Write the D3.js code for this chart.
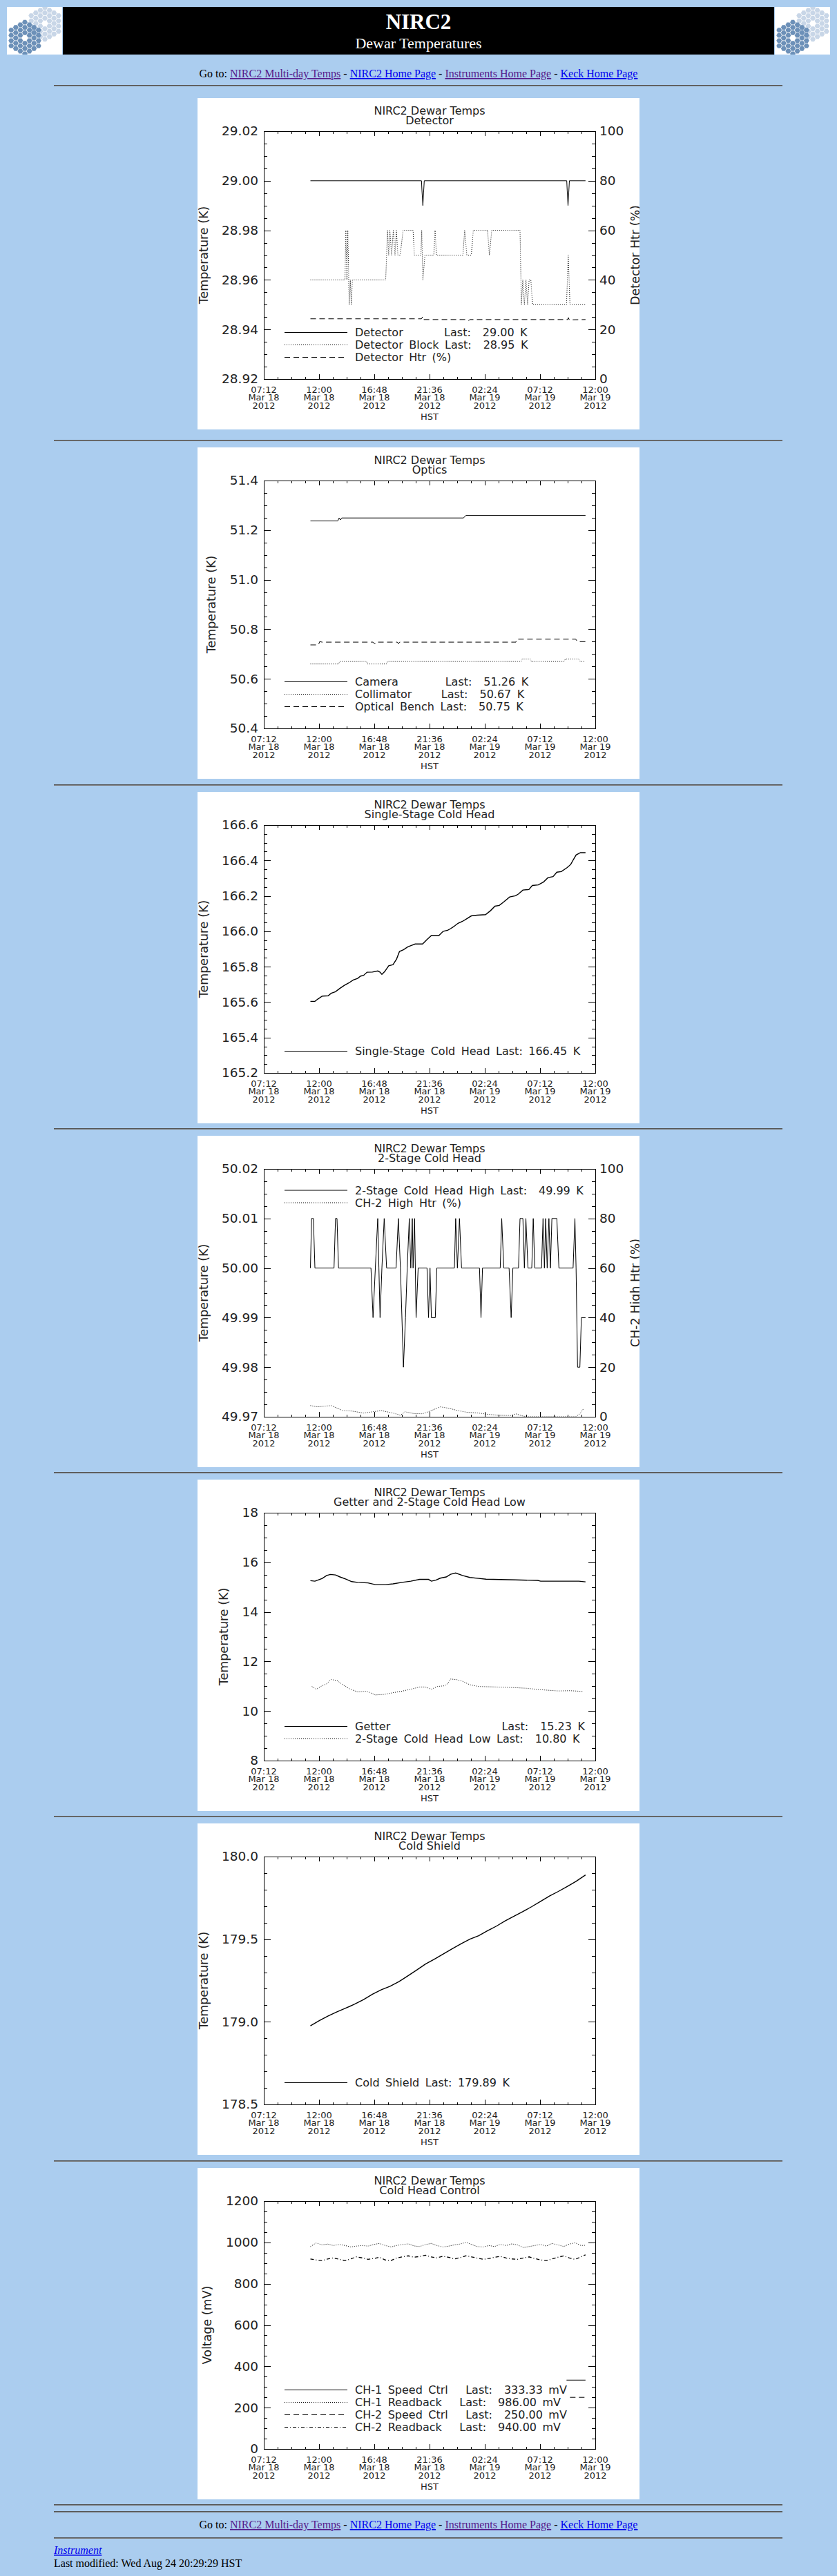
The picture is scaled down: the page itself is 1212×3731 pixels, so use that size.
<!DOCTYPE html>
<html><head><meta charset="utf-8">
<script src="https://cdn.jsdelivr.net/npm/d3@7"></script>
<style>
html,body{margin:0;padding:0;background:#abcdef;}
</style></head>
<body>
<script>
// ---------------- DATA (hours since 2012-03-18 00:00 HST, value) ----------------
const xMajorHours = [7.2, 12.0, 16.8, 21.6, 26.4, 31.2, 36.0];
const xMinorStepHours = 1.2;

// Chart 1: Detector
const detector = [[11.25,29.00],[20.90,29.00],[20.94,28.996],[21.02,28.990],[21.08,28.995],[21.14,29.00],[33.52,29.00],[33.56,28.996],[33.63,28.990],[33.69,28.995],[33.75,29.00],[35.15,29.00]];
const detBlock = [[11.25,28.96],[14.25,28.96],[14.33,28.98],[14.42,28.96],[14.50,28.98],[14.62,28.95],[14.72,28.96],[14.80,28.95],[14.90,28.96],[17.79,28.96],[17.95,28.98],[18.05,28.97],[18.15,28.98],[18.30,28.97],[18.45,28.98],[18.60,28.97],[18.72,28.98],[18.85,28.97],[19.05,28.97],[19.30,28.98],[20.17,28.98],[20.28,28.97],[20.85,28.97],[20.92,28.98],[21.02,28.96],[21.20,28.97],[21.97,28.97],[22.08,28.98],[22.20,28.97],[24.50,28.97],[24.65,28.98],[24.84,28.97],[25.23,28.97],[25.40,28.98],[26.64,28.98],[26.80,28.97],[27.00,28.98],[29.46,28.98],[29.58,28.95],[29.70,28.96],[29.84,28.95],[29.98,28.96],[30.12,28.95],[30.25,28.96],[30.40,28.96],[30.55,28.95],[33.50,28.95],[33.65,28.97],[33.80,28.95],[35.15,28.95]];
const detHtr = [[11.25,24.3],[20.90,24.3],[21.00,25.2],[21.10,24.0],[24.90,24.0],[25.00,23.6],[25.10,24.0],[33.60,24.0],[33.66,24.8],[33.74,23.9],[35.15,24.0]];

// Chart 2: Optics
const camera = [[11.25,51.237],[13.62,51.237],[13.75,51.249],[13.85,51.241],[13.97,51.249],[24.55,51.249],[24.75,51.259],[35.15,51.259]];
const collimator = [[11.25,50.66],[13.69,50.66],[13.80,50.67],[16.12,50.67],[16.22,50.66],[17.85,50.66],[17.95,50.67],[29.55,50.67],[29.65,50.68],[30.35,50.68],[30.45,50.67],[33.30,50.67],[33.40,50.68],[34.55,50.68],[34.70,50.67],[35.15,50.67]];
const opticalBench = [[11.25,50.737],[11.95,50.737],[12.05,50.750],[12.28,50.748],[16.70,50.748],[16.85,50.740],[17.00,50.748],[18.80,50.748],[18.90,50.742],[19.00,50.748],[29.10,50.748],[29.20,50.760],[34.30,50.760],[34.45,50.750],[35.15,50.750]];

// Chart 3: Single-Stage Cold Head
const singleStage = [[11.25,165.604],[11.64,165.604],[11.89,165.617],[12.28,165.634],[12.79,165.636],[13.05,165.650],[13.43,165.659],[13.82,165.678],[14.20,165.695],[14.58,165.708],[14.97,165.725],[15.35,165.734],[15.61,165.747],[15.87,165.751],[16.17,165.769],[16.64,165.770],[17.10,165.776],[17.28,165.770],[17.46,165.757],[17.71,165.773],[18.05,165.805],[18.43,165.812],[18.74,165.844],[18.99,165.886],[19.33,165.896],[19.71,165.912],[20.02,165.920],[20.35,165.928],[20.99,165.928],[21.38,165.954],[21.76,165.976],[22.41,165.976],[22.79,166.000],[23.17,166.006],[23.43,166.015],[23.69,166.026],[24.07,166.045],[24.46,166.056],[24.84,166.071],[25.23,166.087],[25.74,166.091],[26.46,166.094],[26.89,166.116],[27.28,166.142],[27.66,166.146],[28.05,166.166],[28.56,166.194],[29.07,166.201],[29.33,166.211],[29.71,166.233],[30.23,166.236],[30.53,166.259],[31.05,166.262],[31.51,166.279],[31.89,166.303],[32.33,166.309],[32.66,166.334],[33.05,166.337],[33.56,166.360],[33.87,166.378],[34.07,166.402],[34.33,166.431],[34.71,166.444],[35.15,166.444]];

// Chart 4: 2-Stage Cold Head
const twoStageHigh = [[11.25,50.00],[11.35,50.01],[11.51,50.01],[11.64,50.00],[13.30,50.00],[13.43,50.01],[13.56,50.01],[13.69,50.00],[16.51,50.00],[16.69,49.99],[16.89,50.00],[17.10,50.01],[17.20,50.00],[17.30,49.99],[17.46,50.00],[17.66,50.01],[17.87,50.00],[18.69,50.00],[18.89,50.01],[19.07,50.00],[19.33,49.98],[19.51,49.99],[19.66,50.00],[19.84,50.01],[19.97,50.00],[20.10,50.01],[20.17,50.00],[20.30,50.01],[20.43,49.99],[20.61,50.00],[21.38,50.00],[21.51,49.99],[21.64,50.00],[21.76,49.99],[22.10,49.99],[22.23,50.00],[23.76,50.00],[23.87,50.01],[24.02,50.00],[24.20,50.01],[24.38,50.00],[25.94,50.00],[26.07,49.99],[26.20,50.00],[27.74,50.00],[27.87,50.01],[28.05,50.00],[28.51,50.00],[28.69,49.99],[28.84,50.00],[29.33,50.00],[29.46,50.01],[29.71,50.01],[29.84,50.00],[29.97,50.01],[30.15,50.00],[30.48,50.00],[30.61,50.01],[30.74,50.00],[31.33,50.00],[31.46,50.01],[31.58,50.00],[31.69,50.01],[31.82,50.00],[31.97,50.01],[32.10,50.00],[32.23,50.01],[32.66,50.01],[32.84,50.00],[34.07,50.00],[34.23,50.01],[34.33,50.00],[34.46,49.98],[34.66,49.98],[34.79,49.99],[35.15,49.99]];
const ch2HighHtr = [[11.25,4.5],[11.89,4.0],[12.53,4.3],[13.05,4.5],[13.56,3.5],[14.07,2.5],[14.84,2.3],[15.87,1.5],[16.64,2.0],[17.41,2.5],[18.43,1.5],[19.07,0.6],[19.46,2.0],[20.23,1.3],[20.99,1.2],[21.76,2.5],[22.53,4.0],[23.30,3.4],[24.07,2.5],[24.84,1.8],[25.87,1.5],[26.64,1.0],[27.66,0.6],[28.69,0.5],[29.07,1.2],[29.71,0.3],[30.10,0.0],[34.33,0.0],[34.71,1.5],[35.02,3.5]];

// Chart 5: Getter and 2-Stage Cold Head Low
const getter = [[11.25,15.26],[11.64,15.24],[11.89,15.28],[12.28,15.35],[12.66,15.47],[12.99,15.51],[13.43,15.49],[13.82,15.41],[14.33,15.32],[14.84,15.22],[15.35,15.19],[16.25,15.17],[16.89,15.10],[17.79,15.10],[18.43,15.13],[19.20,15.19],[19.97,15.24],[20.74,15.31],[21.51,15.31],[21.76,15.24],[22.15,15.28],[22.53,15.36],[23.05,15.41],[23.43,15.52],[23.87,15.57],[24.46,15.47],[25.10,15.39],[25.87,15.35],[26.51,15.32],[29.07,15.29],[30.99,15.27],[31.25,15.24],[32.79,15.24],[34.58,15.24],[35.15,15.21]];
const twoStageLow = [[11.38,10.99],[11.76,10.88],[12.28,11.02],[12.66,11.10],[13.05,11.27],[13.56,11.23],[14.07,11.06],[14.71,10.88],[15.35,10.77],[16.12,10.80],[16.89,10.65],[17.66,10.67],[18.43,10.74],[19.20,10.80],[19.97,10.88],[20.74,10.97],[21.25,10.97],[21.76,10.88],[22.28,10.99],[22.92,11.02],[23.17,11.11],[23.43,11.29],[23.94,11.27],[24.46,11.20],[25.10,11.06],[25.87,10.99],[27.41,10.97],[28.69,10.95],[29.97,10.92],[31.25,10.86],[32.79,10.81],[33.82,10.82],[34.97,10.79]];

// Chart 6: Cold Shield
const shieldHours = [11.25,12.02,12.79,13.56,14.33,15.10,15.87,16.64,17.41,18.17,18.94,19.71,20.48,21.25,22.02,22.79,23.56,24.33,25.10,25.87,26.64,27.41,28.17,28.94,29.71,30.48,31.25,32.02,32.79,33.56,34.33,35.15];
const shieldTemps = [178.976,179.007,179.035,179.060,179.083,179.107,179.135,179.167,179.194,179.215,179.243,179.278,179.313,179.350,179.379,179.410,179.442,179.472,179.500,179.521,179.551,179.579,179.611,179.639,179.667,179.697,179.729,179.761,179.789,179.819,179.850,179.889];

// Chart 7: Cold Head Control
const ctrlHours = [11.25,11.75,12.25,12.75,13.25,13.75,14.25,14.75,15.25,15.75,16.25,16.75,17.25,17.75,18.25,18.75,19.25,19.75,20.25,20.75,21.25,21.75,22.25,22.75,23.25,23.75,24.25,24.75,25.25,25.75,26.25,26.75,27.25,27.75,28.25,28.75,29.25,29.75,30.25,30.75,31.25,31.75,32.25,32.75,33.25,33.75,34.25,34.75,35.15];
const ch1Readback = [980,997,988,992,985,990,985,978,982,985,982,990,995,985,978,985,990,993,983,980,990,995,985,978,982,988,992,1000,990,980,978,985,980,990,985,993,988,975,980,985,990,982,995,988,980,992,998,985,986];
const ch2Readback = [920,915,912,920,925,918,912,920,930,925,918,922,928,915,912,925,930,935,928,932,938,930,925,933,928,920,926,935,930,924,918,922,928,932,925,920,918,925,930,922,915,912,920,928,935,925,918,930,940];
const ch1Speed = [[33.50,333.33],[35.15,333.33]];
const ch2Speed = [[33.80,250.0],[35.15,250.0]];

// Tick values
const yTicks1 = [28.92,28.94,28.96,28.98,29.00,29.02];
const yTicks2 = [50.4,50.6,50.8,51.0,51.2,51.4];
const yTicks3 = [165.2,165.4,165.6,165.8,166.0,166.2,166.4,166.6];
const yTicks4 = [49.97,49.98,49.99,50.00,50.01,50.02];
const yTicks5 = [8,10,12,14,16,18];
const yTicks6 = [178.5,179.0,179.5,180.0];
const yTicks7 = [0,200,400,600,800,1000,1200];
const htrTicks = [0,20,40,60,80,100];

const subtitles = ["Detector","Optics","Single-Stage Cold Head","2-Stage Cold Head","Getter and 2-Stage Cold Head Low","Cold Shield","Cold Head Control"];
const legend1 = ["Detector       Last:  29.00 K","Detector Block Last:  28.95 K","Detector Htr (%)"];
const legend2 = ["Camera        Last:  51.26 K","Collimator     Last:  50.67 K","Optical Bench Last:  50.75 K"];
const legend3 = ["Single-Stage Cold Head Last: 166.45 K"];
const legend4 = ["2-Stage Cold Head High Last:  49.99 K","CH-2 High Htr (%)"];
const legend5 = ["Getter                   Last:  15.23 K","2-Stage Cold Head Low Last:  10.80 K"];
const legend6 = ["Cold Shield Last: 179.89 K"];
const legend7 = ["CH-1 Speed Ctrl   Last:  333.33 mV","CH-1 Readback   Last:  986.00 mV","CH-2 Speed Ctrl   Last:  250.00 mV","CH-2 Readback   Last:  940.00 mV"];

const gotoLinks = [["NIRC2 Multi-day Temps","#551a8b"],["NIRC2 Home Page","#0000ee"],["Instruments Home Page","#551a8b"],["Keck Home Page","#0000ee"]];

// ---------------- RENDER ----------------
const W = 1212, H = 3731;
const base = new Date(2012, 2, 18, 0, 0, 0).getTime();
const T = h => new Date(base + h * 3600000);
const SANS = "'DejaVu Sans', Verdana, sans-serif";
const SERIF = "'Liberation Serif', 'Times New Roman', serif";
const dashes = {solid: null, dot: "1,2", dash: "8,5", dashdot: "5,3,1,3"};

const svg = d3.select("body").append("svg").attr("width", W).attr("height", H)
  .style("display","block").style("background","#abcdef");

// Header
function drawLogo(x0) {
  const g = svg.append("svg").attr("x", x0).attr("y", 10).attr("width", 80).attr("height", 69);
  g.append("rect").attr("width", 80).attr("height", 69).attr("fill", "#fff");
  const s = 4.4, cells = [];
  for (let q = -3; q <= 3; q++) for (let r = -3; r <= 3; r++) {
    if (Math.abs(q + r) > 3 || (q === 0 && r === 0)) continue;
    cells.push([q, r]);
  }
  const hex = d3.range(6).map(i => { const a = Math.PI / 3 * i; return [s * 0.9 * Math.cos(a), s * 0.9 * Math.sin(a)]; });
  [[55, 24, "#c8d6e7"], [26, 45, "#6c90b8"]].forEach(([cx, cy, col]) => {
    g.append("g").selectAll("path").data(cells).join("path")
      .attr("d", d => {
        const px = cx + s * 1.5 * d[0], py = cy + s * Math.sqrt(3) * (d[1] + d[0] / 2);
        return "M" + hex.map(p => [(p[0] + px).toFixed(2), (p[1] + py).toFixed(2)].join(",")).join("L") + "Z";
      })
      .attr("fill", col);
  });
}
drawLogo(10);
drawLogo(1122);
svg.append("rect").attr("x", 91).attr("y", 10).attr("width", 1030).attr("height", 69).attr("fill", "#000");
svg.append("text").attr("x", 606).attr("y", 42).attr("text-anchor", "middle").attr("fill", "#fff")
  .attr("font-family", SERIF).attr("font-weight", "bold").attr("font-size", 31).text("NIRC2");
svg.append("text").attr("x", 606).attr("y", 70).attr("text-anchor", "middle").attr("fill", "#fff")
  .attr("font-family", SERIF).attr("font-size", 22).text("Dewar Temperatures");

function gotoLine(yb) {
  const t = svg.append("text").attr("x", 606).attr("y", yb).attr("text-anchor", "middle")
    .attr("font-family", SERIF).attr("font-size", 16).attr("fill", "#000")
    .attr("xml:space", "preserve").style("white-space", "pre");
  t.append("tspan").text("Go to: ");
  gotoLinks.forEach((l, i) => {
    if (i > 0) t.append("tspan").attr("fill", "#000").text(" - ");
    t.append("tspan").attr("fill", l[1]).style("text-decoration", "underline").text(l[0]);
  });
}
gotoLine(112);

const hrYs = [124, 638, 1137, 1635, 2133, 2631, 3130, 3628, 3638, 3676];
hrYs.forEach(y => {
  svg.append("rect").attr("x", 78).attr("y", y - 1).attr("width", 1055).attr("height", 1).attr("fill", "#555");
  svg.append("rect").attr("x", 78).attr("y", y).attr("width", 1055).attr("height", 1).attr("fill", "#7a7a7a");
});

// Charts
const zipPts = (xs, ys) => xs.map((h, i) => [h, ys[i]]);
const charts = [
  {top: 142, yTicks: yTicks1, minor: 0.005, fmt: ".2f", yTitle: "Temperature (K)",
   y2: {ticks: htrTicks, minor: 5, title: "Detector Htr (%)"},
   series: [{d: detector, s: "solid"}, {d: detBlock, s: "dot"}, {d: detHtr, s: "dash", ax2: true}],
   legend: legend1, lstyles: ["solid","dot","dash"], lpos: "bottom"},
  {top: 648, yTicks: yTicks2, minor: 0.05, fmt: ".1f", yTitle: "Temperature (K)",
   series: [{d: camera, s: "solid"}, {d: collimator, s: "dot"}, {d: opticalBench, s: "dash"}],
   legend: legend2, lstyles: ["solid","dot","dash"], lpos: "bottom"},
  {top: 1147, yTicks: yTicks3, minor: 0.05, fmt: ".1f", yTitle: "Temperature (K)",
   series: [{d: singleStage, s: "solid", w: 1.4}],
   legend: legend3, lstyles: ["solid"], lpos: "bottom"},
  {top: 1645, yTicks: yTicks4, minor: 0.0025, fmt: ".2f", yTitle: "Temperature (K)",
   y2: {ticks: htrTicks, minor: 5, title: "CH-2 High Htr (%)"},
   series: [{d: twoStageHigh, s: "solid"}, {d: ch2HighHtr, s: "dot", ax2: true}],
   legend: legend4, lstyles: ["solid","dot"], lpos: "top"},
  {top: 2143, yTicks: yTicks5, minor: 0.5, fmt: "d", yTitle: "Temperature (K)",
   series: [{d: getter, s: "solid", w: 1.4}, {d: twoStageLow, s: "dot"}],
   legend: legend5, lstyles: ["solid","dot"], lpos: "bottom"},
  {top: 2641, yTicks: yTicks6, minor: 0.1, fmt: ".1f", yTitle: "Temperature (K)",
   series: [{d: zipPts(shieldHours, shieldTemps), s: "solid", w: 1.4}],
   legend: legend6, lstyles: ["solid"], lpos: "bottom"},
  {top: 3140, yTicks: yTicks7, minor: 50, fmt: "d", yTitle: "Voltage (mV)",
   series: [{d: ch1Speed, s: "solid"}, {d: zipPts(ctrlHours, ch1Readback), s: "dot"},
            {d: ch2Speed, s: "dash"}, {d: zipPts(ctrlHours, ch2Readback), s: "dashdot", w: 1.3}],
   legend: legend7, lstyles: ["solid","dot","dash","dashdot"], lpos: "bottom"}
];

const PL = 96, PR = 576, PT = 48, PB = 407;
const x = d3.scaleTime().domain([T(7.2), T(36.0)]).range([PL, PR]);
const xMajor = xMajorHours.map(T);
const xMinor = d3.range(7.2, 36.0 + 0.01, xMinorStepHours).map(T);
const fH = d3.timeFormat("%H:%M"), fD = d3.timeFormat("%b %d"), fY = d3.timeFormat("%Y");

function styleAxis(g) {
  g.attr("color", "#000").attr("font-family", SANS);
  g.selectAll("path, line").attr("shape-rendering", "crispEdges").attr("stroke-width", 1);
  return g;
}

charts.forEach((c, ci) => {
  const p = svg.append("svg").attr("x", 286).attr("y", c.top).attr("width", 640).attr("height", 480);
  p.append("rect").attr("width", 640).attr("height", 480).attr("fill", "#fff");
  const lo = c.yTicks[0], hi = c.yTicks[c.yTicks.length - 1];
  const y = d3.scaleLinear().domain([lo, hi]).range([PB, PT]);
  const yMinor = d3.range(lo, hi + c.minor / 2, c.minor);
  const y2 = c.y2 ? d3.scaleLinear().domain([c.y2.ticks[0], c.y2.ticks[c.y2.ticks.length - 1]]).range([PB, PT]) : null;

  // titles
  p.append("text").attr("x", (PL + PR) / 2).attr("y", 24).attr("text-anchor", "middle")
    .attr("font-family", SANS).attr("font-size", 16).attr("fill", "#222").text("NIRC2 Dewar Temps");
  p.append("text").attr("x", (PL + PR) / 2).attr("y", 38).attr("text-anchor", "middle")
    .attr("font-family", SANS).attr("font-size", 16).attr("fill", "#222").text(subtitles[ci]);

  // x axes (bottom and top), ticks inward
  styleAxis(p.append("g").attr("transform", `translate(0,${PB})`)
    .call(d3.axisBottom(x).tickValues(xMinor).tickSize(-3.5).tickSizeOuter(0).tickFormat("")));
  styleAxis(p.append("g").attr("transform", `translate(0,${PB})`)
    .call(d3.axisBottom(x).tickValues(xMajor).tickSize(-7).tickSizeOuter(0).tickFormat("")));
  styleAxis(p.append("g").attr("transform", `translate(0,${PT})`)
    .call(d3.axisTop(x).tickValues(xMinor).tickSize(-3.5).tickSizeOuter(0).tickFormat("")));
  styleAxis(p.append("g").attr("transform", `translate(0,${PT})`)
    .call(d3.axisTop(x).tickValues(xMajor).tickSize(-7).tickSizeOuter(0).tickFormat("")));

  const xl = p.append("g").attr("font-family", SANS).attr("font-size", 13).attr("fill", "#222").attr("text-anchor", "middle");
  xMajor.forEach(d => {
    const t = xl.append("text");
    [fH, fD, fY].forEach((f, i) => t.append("tspan").attr("x", x(d)).attr("y", 426.5 + i * 11.8).text(f(d)));
  });
  xl.append("text").attr("x", (PL + PR) / 2).attr("y", 465.5).text("HST");

  // left axis
  styleAxis(p.append("g").attr("transform", `translate(${PL},0)`)
    .call(d3.axisLeft(y).tickValues(yMinor).tickSize(-4.8).tickSizeOuter(0).tickFormat("")));
  const ly = styleAxis(p.append("g").attr("transform", `translate(${PL},0)`)
    .call(d3.axisLeft(y).tickValues(c.yTicks).tickSize(-9.6).tickSizeOuter(0).tickPadding(8).tickFormat(d3.format(c.fmt))));
  ly.attr("font-size", 18.5);
  ly.selectAll("text").attr("fill", "#222");

  // right axis
  if (y2) {
    const y2Minor = d3.range(c.y2.ticks[0], c.y2.ticks[c.y2.ticks.length - 1] + c.y2.minor / 2, c.y2.minor);
    styleAxis(p.append("g").attr("transform", `translate(${PR},0)`)
      .call(d3.axisRight(y2).tickValues(y2Minor).tickSize(-4.8).tickSizeOuter(0).tickFormat("")));
    const ry = styleAxis(p.append("g").attr("transform", `translate(${PR},0)`)
      .call(d3.axisRight(y2).tickValues(c.y2.ticks).tickSize(-9.6).tickSizeOuter(0).tickPadding(6).tickFormat(d3.format("d"))));
    ry.attr("font-size", 18.5);
    ry.selectAll("text").attr("fill", "#222");
    p.append("text").attr("transform", `translate(640,${(PT + PB) / 2}) rotate(-90)`)
      .attr("text-anchor", "middle").attr("font-family", SANS).attr("font-size", 17.5).attr("fill", "#222")
      .text(c.y2.title);
  } else {
    styleAxis(p.append("g").attr("transform", `translate(${PR},0)`)
      .call(d3.axisRight(y).tickValues(yMinor).tickSize(-4.8).tickSizeOuter(0).tickFormat("")));
    styleAxis(p.append("g").attr("transform", `translate(${PR},0)`)
      .call(d3.axisRight(y).tickValues(c.yTicks).tickSize(-9.6).tickSizeOuter(0).tickFormat("")));
  }

  // y title placed left of the widest tick label
  let minLeft = PL;
  ly.selectAll("text").each(function () {
    const w = this.getComputedTextLength();
    minLeft = Math.min(minLeft, PL - 8 - w);
  });
  p.append("text").attr("transform", `translate(${minLeft - 20.5},${(PT + PB) / 2}) rotate(-90)`)
    .attr("text-anchor", "middle").attr("font-family", SANS).attr("font-size", 17.5).attr("fill", "#222")
    .text(c.yTitle);

  // series
  c.series.forEach(s => {
    const ys = s.ax2 ? y2 : y;
    const line = d3.line().x(d => x(T(d[0]))).y(d => ys(d[1]));
    p.append("path").datum(s.d).attr("d", line).attr("fill", "none").attr("stroke", "#000")
      .attr("stroke-width", s.w || 1).attr("stroke-dasharray", dashes[s.s]);
  });

  // legend
  const n = c.legend.length;
  c.legend.forEach((txt, i) => {
    const ry = c.lpos === "top" ? 79 + i * 18 : 375.5 - (n - 1 - i) * 18;
    p.append("line").attr("x1", 126).attr("x2", 217).attr("y1", ry).attr("y2", ry)
      .attr("stroke", "#000").attr("stroke-width", 1).attr("stroke-dasharray", dashes[c.lstyles[i]]);
    p.append("text").attr("x", 228).attr("y", ry + 5.8).attr("font-family", SANS).attr("font-size", 16)
      .attr("fill", "#222").attr("xml:space", "preserve").style("white-space", "pre")
      .style("word-spacing", "3.4px").text(txt);
  });
});

// Footer
gotoLine(3662);
svg.append("text").attr("x", 78).attr("y", 3699).attr("font-family", SERIF).attr("font-size", 16)
  .attr("font-style", "italic").attr("fill", "#0000ee").style("text-decoration", "underline").text("Instrument");
svg.append("text").attr("x", 78).attr("y", 3718).attr("font-family", SERIF).attr("font-size", 16)
  .attr("fill", "#000").text("Last modified: Wed Aug 24 20:29:29 HST");
</script>
</body></html>
